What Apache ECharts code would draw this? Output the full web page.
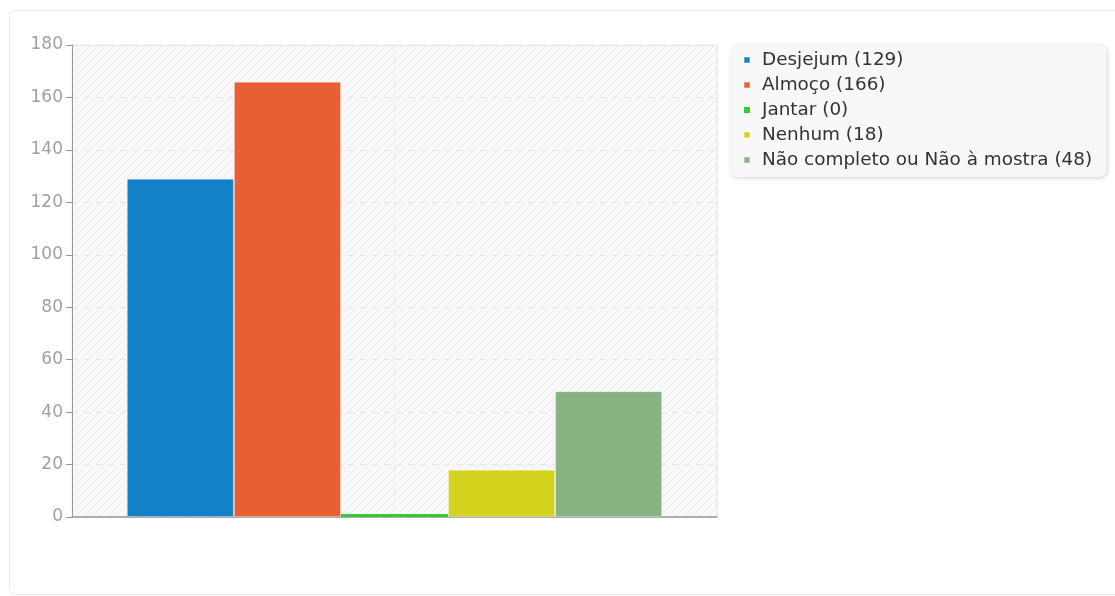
<!DOCTYPE html>
<html><head><meta charset="utf-8">
<script src="https://cdn.jsdelivr.net/npm/echarts@6/dist/echarts.min.js"></script>
<style>html,body{margin:0;padding:0;background:#fff}#c{width:1115px;height:596px}</style>
</head><body><div id="c"></div>
<script>
const categories = [''];
const seriesNames = ['Desjejum', 'Almoço', 'Jantar', 'Nenhum', 'Não completo ou Não à mostra'];
const seriesValues = [129, 166, 0, 18, 48];
const colors = ['#1381c8', '#e85f33', '#33cc33', '#d3d31d', '#87b383'];
const yTicks = [0, 20, 40, 60, 80, 100, 120, 140, 160, 180];

const pc = document.createElement('canvas');
pc.width = 8; pc.height = 8;
const g = pc.getContext('2d');
g.fillStyle = '#f9f9f9'; g.fillRect(0, 0, 8, 8);
g.strokeStyle = '#efefef'; g.lineWidth = 1.2;
g.beginPath(); g.moveTo(0, 8); g.lineTo(8, 0); g.moveTo(-4, 4); g.lineTo(4, -4); g.moveTo(4, 12); g.lineTo(12, 4); g.stroke();

const chart = echarts.init(document.getElementById('c'), null, {renderer: 'canvas'});
const font = 'DejaVu Sans';
chart.setOption({
  animation: false,
  graphic: [{
    type: 'rect', left: 9, top: 10, z: -10, silent: true,
    shape: {width: 1120, height: 584, r: 6},
    style: {fill: '#fff', stroke: '#e6e6e6', lineWidth: 1}
  }],
  grid: {left: 72, top: 45, width: 645, height: 472, show: true,
    backgroundColor: {image: pc, repeat: 'repeat'}, borderColor: '#e8e8e8', borderWidth: 1},
  legend: {
    left: 731, top: 45, orient: 'vertical',
    padding: [5, 14, 7, 12], itemWidth: 6, itemHeight: 6, itemGap: 5, icon: 'rect',
    backgroundColor: '#f8f8f8', borderRadius: 6, shadowBlur: 4, shadowColor: 'rgba(0,0,0,0.18)', shadowOffsetX: 1, shadowOffsetY: 1,
    textStyle: {fontFamily: font, fontSize: 18.4, color: '#333', lineHeight: 20, padding: [0, 0, 0, 7]},
    formatter: n => n + ' (' + seriesValues[seriesNames.indexOf(n)] + ')',
    data: seriesNames
  },
  xAxis: [{
    type: 'category', data: categories,
    axisLine: {lineStyle: {color: '#999', width: 1.5}}, axisTick: {show: false}, axisLabel: {show: false},
    splitLine: {show: false}
  }, {
    type: 'value', min: 0, max: 2, interval: 1, position: 'bottom', show: true,
    axisLine: {show: false}, axisTick: {show: false}, axisLabel: {show: false},
    splitLine: {show: true, lineStyle: {color: '#e4e4e4', type: [6, 6], width: 1}}
  }],
  yAxis: {
    type: 'value', min: 0, max: 180, interval: 20,
    axisLine: {show: true, lineStyle: {color: '#999', width: 1}},
    axisTick: {show: true, length: 6, lineStyle: {color: '#999'}},
    axisLabel: {fontFamily: font, fontSize: 17, color: '#a0a0a0', margin: 9, formatter: v => yTicks.includes(v) ? String(v) : ''},
    splitLine: {show: true, lineStyle: {color: '#e4e4e4', type: [6, 6], width: 1}}
  },
  series: seriesNames.map((n, i) => ({
    name: n, type: 'bar', xAxisIndex: 0, data: [seriesValues[i]],
    barGap: 0, barCategoryGap: '17%', barMinHeight: 3,
    itemStyle: {color: colors[i], borderColor: seriesValues[i] === 0 ? colors[i] : 'rgba(255,255,255,0.3)', borderWidth: seriesValues[i] === 0 ? 0 : 1}
  }))
});
</script></body></html>
